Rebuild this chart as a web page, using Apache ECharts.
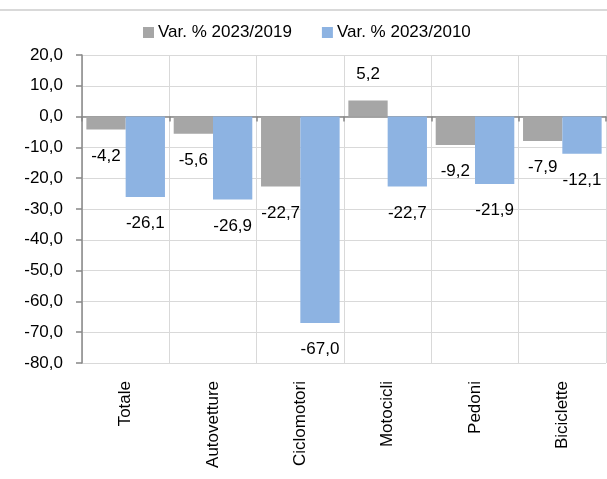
<!DOCTYPE html>
<html>
<head>
<meta charset="utf-8">
<script src="https://cdn.jsdelivr.net/npm/echarts@6/dist/echarts.min.js"></script>
<style>
  html, body { margin: 0; padding: 0; background: #fff; }
  #chart { width: 607px; height: 479px; }
</style>
</head>
<body>
<div id="chart"></div>
<script>
  // dati
  const categories = ['Totale', 'Autovetture', 'Ciclomotori', 'Motocicli', 'Pedoni', 'Biciclette']
  const var2019 = [-4.2, -5.6, -22.7, 5.2, -9.2, -7.9]
  const var2010 = [-26.1, -26.9, -67.0, -22.7, -21.9, -12.1]
  const seriesNames = ['Var. % 2023/2019', 'Var. % 2023/2010']

  const FONT = "'Liberation Sans', Arial, sans-serif"
  const SIZE = 17
  const fmt = v => Number(v).toFixed(1).replace('.', ',')

  // etichette sotto le barre negative, sopra quelle positive
  function toData(values) {
    return values.map(v => ({
      value: v,
      label: { position: v < 0 ? 'bottom' : 'top' }
    }))
  }

  const chart = echarts.init(document.getElementById('chart'), null, { renderer: 'canvas' })

  const barLabel = {
    show: true,
    distance: 18,
    formatter: p => fmt(p.value),
    fontFamily: FONT,
    fontSize: SIZE,
    color: '#000'
  }

  chart.setOption({
    animation: false,
    textStyle: { fontFamily: FONT },
    legend: {
      top: 24,
      left: 143,
      padding: 0,
      itemWidth: 11,
      itemHeight: 11,
      itemGap: 30,
      icon: 'rect',
      textStyle: { fontFamily: FONT, fontSize: SIZE, color: '#000', padding: [0, 0, 0, -1] },
      data: seriesNames
    },
    grid: { left: 82, right: 1, top: 55, bottom: 116, outerBoundsMode: 'none', containLabel: false },
    xAxis: [{
      type: 'category',
      data: categories,
      axisLine: { onZero: true, lineStyle: { color: '#878787', width: 1.5 } },
      axisTick: { show: true, length: 5, lineStyle: { color: '#878787', width: 1.5 } },
      axisLabel: { show: false },
      splitLine: { show: true, lineStyle: { color: '#d9d9d9', width: 1 } }
    }, {
      type: 'category',
      data: categories,
      position: 'bottom',
      axisLine: { show: false, onZero: false },
      axisTick: { show: false },
      splitLine: { show: false },
      axisLabel: {
        rotate: 90,
        margin: 18,
        fontFamily: FONT,
        fontSize: SIZE,
        color: '#000'
      }
    }],
    yAxis: {
      type: 'value',
      min: -80,
      max: 20,
      interval: 10,
      axisLine: { show: true, lineStyle: { color: '#878787', width: 1.5 } },
      axisTick: { show: true, length: 6, lineStyle: { color: '#878787', width: 1.5 } },
      axisLabel: { formatter: fmt, margin: 19, fontFamily: FONT, fontSize: SIZE, color: '#000' },
      splitLine: { show: true, lineStyle: { color: '#d9d9d9', width: 1 } }
    },
    series: [{
      name: seriesNames[0],
      type: 'bar',
      data: toData(var2019),
      barGap: '0%',
      barCategoryGap: '10%',
      itemStyle: { color: '#a6a6a6' },
      label: barLabel
    }, {
      name: seriesNames[1],
      type: 'bar',
      data: toData(var2010),
      barGap: '0%',
      barCategoryGap: '10%',
      itemStyle: { color: '#8db3e2' },
      label: barLabel
    }],
    graphic: [{
      type: 'line',
      shape: { x1: 0, y1: 10, x2: 607, y2: 10 },
      style: { stroke: '#d9d9d9', lineWidth: 2 }
    }]
  })
</script>
</body>
</html>
